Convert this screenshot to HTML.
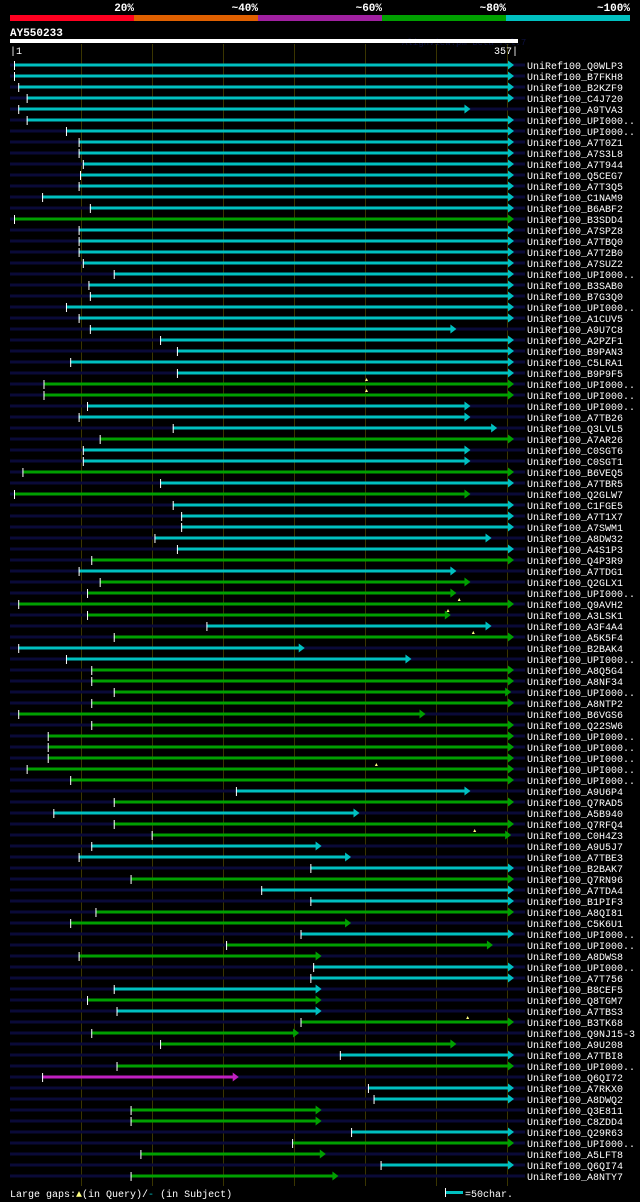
<!DOCTYPE html>
<html><head><meta charset="utf-8">
<style>
html,body{margin:0;padding:0;background:#000;}
svg{display:block;}
text{font-family:"Liberation Mono","DejaVu Sans Mono",monospace;}
</style></head>
<body>
<svg id="chart" width="640" height="1202" viewBox="0 0 640 1202" xmlns="http://www.w3.org/2000/svg">
<rect x="0" y="0" width="640" height="1202" fill="#000"/>
<g>
<rect x="10" y="15" width="124" height="6" fill="#ff0020"/>
<rect x="134" y="15" width="124" height="6" fill="#e06000"/>
<rect x="258" y="15" width="124" height="6" fill="#a020a0"/>
<rect x="382" y="15" width="124" height="6" fill="#00a000"/>
<rect x="506" y="15" width="124" height="6" fill="#00c0c0"/>
<text x="134" y="11" fill="#fff" font-size="11" font-weight="bold" text-anchor="end">20%</text>
<text x="258" y="11" fill="#fff" font-size="11" font-weight="bold" text-anchor="end">~40%</text>
<text x="382" y="11" fill="#fff" font-size="11" font-weight="bold" text-anchor="end">~60%</text>
<text x="506" y="11" fill="#fff" font-size="11" font-weight="bold" text-anchor="end">~80%</text>
<text x="630" y="11" fill="#fff" font-size="11" font-weight="bold" text-anchor="end">~100%</text>
</g>
<text x="10" y="36" fill="#fff" font-size="11" font-weight="bold">AY550233</text>
<text x="402" y="45" fill="#0c1040" font-size="9">AlignView.pm Beta rel.7</text>
<rect x="10" y="39" width="508" height="4" fill="#fff"/>
<g id="grid"></g>
<text x="10" y="54" fill="#fff" font-size="10">|1</text>
<text x="518" y="54" fill="#fff" font-size="10" text-anchor="end">357|</text>
<g id="rows"></g>
<g>
<text x="10" y="1197" fill="#fff" font-size="10">Large gaps:<tspan fill="#ffff80">▲</tspan>(in Query)/<tspan fill="#00c0c0">-</tspan> (in Subject)</text>
<rect x="445" y="1191" width="18" height="3" fill="#00c0c0"/>
<rect x="445" y="1188" width="1" height="9" fill="#fff"/>
<text x="465" y="1197" fill="#fff" font-size="10">=50char.</text>
</g>
</svg>
<script>
const labels=["Q0WLP3","B7FKH8","B2KZF9","C4J720","A9TVA3","UPI000..","UPI000..","A7T0Z1","A7S3L8","A7T944","Q5CEG7","A7T3Q5","C1NAM9","B6ABF2","B3SDD4","A7SPZ8","A7TBQ0","A7T2B0","A7SUZ2","UPI000..","B3SAB0","B7G3Q0","UPI000..","A1CUV5","A9U7C8","A2PZF1","B9PAN3","C5LRA1","B9P9F5","UPI000..","UPI000..","UPI000..","A7TB26","Q3LVL5","A7AR26","C0SGT6","C0SGT1","B6VEQ5","A7TBR5","Q2GLW7","C1FGE5","A7T1X7","A7SWM1","A8DW32","A4S1P3","Q4P3R9","A7TDG1","Q2GLX1","UPI000..","Q9AVH2","A3LSK1","A3F4A4","A5K5F4","B2BAK4","UPI000..","A8Q5G4","A8NF34","UPI000..","A8NTP2","B6VGS6","Q22SW6","UPI000..","UPI000..","UPI000..","UPI000..","UPI000..","A9U6P4","Q7RAD5","A5B940","Q7RFQ4","C0H4Z3","A9U5J7","A7TBE3","B2BAK7","Q7RN96","A7TDA4","B1PIF3","A8QI81","C5K6U1","UPI000..","UPI000..","A8DWS8","UPI000..","A7T756","B8CEF5","Q8TGM7","A7TBS3","B3TK68","Q9NJ15-3","A9U208","A7TBI8","UPI000..","Q6QI72","A7RKX0","A8DWQ2","Q3E811","C8ZDD4","Q29R63","UPI000..","A5LFT8","Q6QI74","A8NTY7"];
const starts=[1,1,4,10,4,10,38,47,47,50,48,47,21,55,1,47,47,47,50,72,54,55,38,47,55,105,117,41,117,22,22,53,47,114,62,50,50,7,105,1,114,120,120,101,117,56,47,62,53,4,53,138,72,4,38,56,56,72,56,4,56,25,25,25,10,41,159,72,29,72,99,56,47,212,84,177,212,59,41,205,152,47,214,212,72,53,74,205,56,105,233,74,21,253,257,84,84,241,199,91,262,84];
const ends=[357,357,357,357,326,357,357,357,357,357,357,357,357,357,357,357,357,357,357,357,357,357,357,357,316,357,357,357,357,357,357,326,326,345,357,326,326,357,357,326,357,357,357,341,357,357,316,326,316,357,312,341,357,208,284,357,357,355,357,294,357,357,357,357,357,357,326,357,247,357,355,220,241,357,357,357,357,357,241,357,342,220,357,357,220,220,220,357,204,316,357,357,161,357,357,220,220,357,357,223,357,232];
const colors=["c","c","c","c","c","c","c","c","c","c","c","c","c","c","g","c","c","c","c","c","c","c","c","c","c","c","c","c","c","g","g","c","c","c","g","c","c","g","c","g","c","c","c","c","c","g","c","g","g","g","g","c","g","c","c","g","g","g","g","g","g","g","g","g","g","g","c","g","c","g","g","c","c","c","g","c","c","g","g","c","g","g","c","c","c","g","c","g","g","g","c","g","m","c","c","g","g","c","g","g","c","g"];
const gapRows=[29,30,49,50,52,64,70,87];
const gapPos=[252,252,318,310,328,259,329,324];
const tickPos=[50,100,150,200,250,300,350];

const NS="http://www.w3.org/2000/svg";
const X=r=>14+(r-1)*500/356;
const GX=p=>81+(p-50)*71/50;
const Y=i=>65+i*11;
const col={c:"#00c0c0",g:"#00a000",m:"#c020c0"};
function mk(tag,attrs,parent){const e=document.createElementNS(NS,tag);for(const k in attrs)e.setAttribute(k,attrs[k]);parent.appendChild(e);return e;}
const grid=document.getElementById('grid');
tickPos.forEach(p=>{
  const l=mk('line',{x1:GX(p)+0.5,x2:GX(p)+0.5,y1:44,y2:1186,stroke:"#3a3500","stroke-width":1},grid);
  
  
});
const rows=document.getElementById('rows');
labels.forEach((lab,i)=>{
  const g=mk('g',{},rows);
  
  
  const y=Y(i);
  const bg=mk('rect',{x:10,y:y-1.5,width:515,height:3,fill:"#0a0a38"},g);
  
  
  const x1=X(starts[i]),x2=X(ends[i]);
  const b=mk('rect',{x:x1,y:y-1.5,width:Math.max(0,x2-x1-5),height:3,fill:col[colors[i]]},g);
  
  
  const t=mk('rect',{x:x1,y:y-4,width:1,height:9,fill:"#fff"},g);
  
  
  const a=mk('polygon',{points:`${x2-6},${y-4.5} ${x2},${y} ${x2-6},${y+4.5}`,fill:col[colors[i]]},g);
  
  
  const tx=mk('text',{x:527,y:y+4,fill:"#fff","font-size":10},g);
  tx.textContent="UniRef100_"+lab;
  
  
});
gapRows.forEach((r,k)=>{
  const x=X(gapPos[k]),y=Y(r);
  const m=mk('polygon',{points:`${x-1.5},${y-3} ${x},${y-6} ${x+1.5},${y-3}`,fill:"#ffff80"},rows);
  
  
});
</script>
</body></html>
